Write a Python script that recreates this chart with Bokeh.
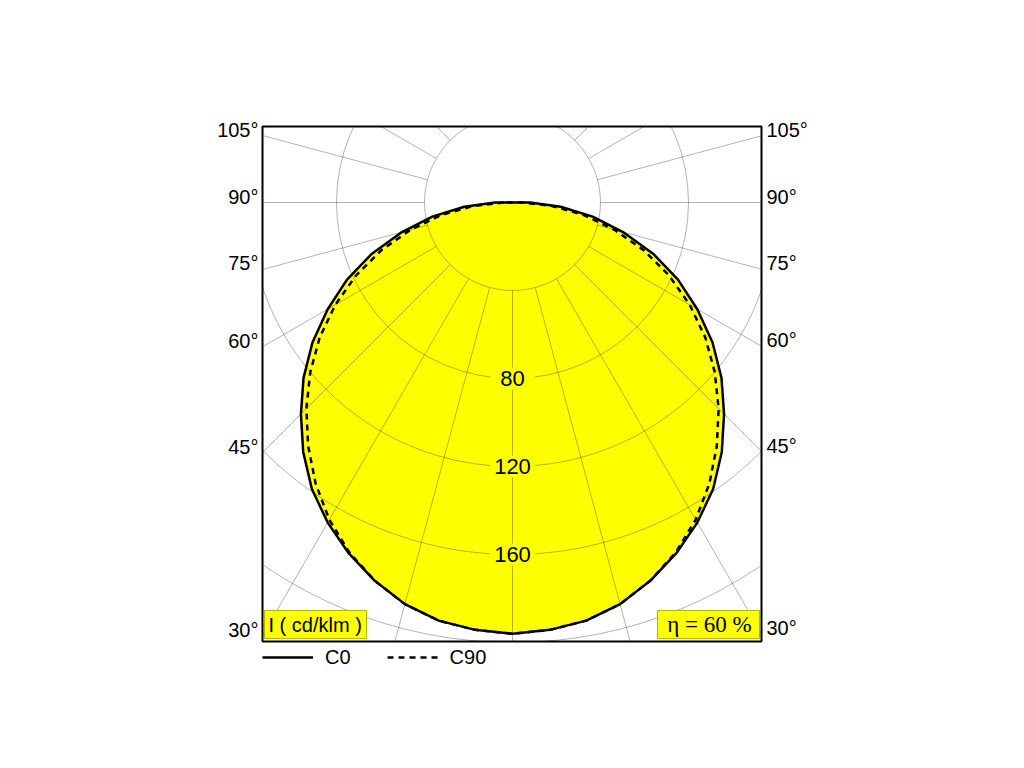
import numpy as np
from bokeh.plotting import figure
from bokeh.models import Legend, LegendItem, LinearAxis, FixedTicker, CustomJSTickFormatter
from bokeh.core.properties import value
from bokeh.embed import file_html
from bokeh.resources import INLINE

# ---- data (cd/klm) ----
angles = [0, 5, 10, 15, 20, 25, 30, 35, 40, 45, 50, 55, 60, 65, 70, 75, 80, 85, 90]
c0 = [196, 195, 193, 189, 183, 176, 168, 159, 148, 136, 124, 111, 97, 83, 68, 52, 37, 22, 8]
c90 = [196, 195, 193, 189, 183, 175.5, 166.5, 156, 144.5, 132.5, 120, 107, 93, 78.5, 63.5, 48, 33, 18, 4]
ring_values = [40, 80, 120, 160, 200]
ring_label_values = [80, 120, 160]
ring_labels = ["80", "120", "160"]
spoke_angles = list(range(0, 181, 15))
side_angles = [30, 45, 60, 75, 90, 105]
side_labels = ["30°", "45°", "60°", "75°", "90°", "105°"]
efficiency_text = "η = 60 %"
unit_text = "I ( cd/klm )"
series_names = ["C0", "C90"]

# ---- layout (page pixels) ----
SCALE = 2.2          # px per cd/klm
CX, CY = 512, 202    # pole position on the page
FL, FT, FR, FB = 262, 126, 761, 641
SANS = value("Liberation Sans")
SERIF = value("Liberation Serif")
YELLOW = "#FFFF00"


def xd(px):
    return (px - CX) / SCALE


def yd(py):
    return (CY - py) / SCALE


x0, x1 = xd(FL), xd(FR)
y0, y1 = yd(FB), yd(FT)

p = figure(frame_width=FR - FL, frame_height=FB - FT,
           x_range=(x0, x1), y_range=(y0, y1),
           output_backend="svg", toolbar_location=None,
           x_axis_location=None, y_axis_location=None,
           min_border_left=FL, min_border_top=FT,
           min_border_right=200, min_border_bottom=40)
p.outline_line_color = "black"
p.outline_line_width = 2
p.background_fill_color = "white"
p.border_fill_color = "white"
for g in p.grid:
    g.visible = False


def curve(vals):
    a = np.radians(np.array(angles, float))
    v = np.array(vals, float)
    xl = -(v * np.sin(a))[::-1]
    yl = -(v * np.cos(a))[::-1]
    xr = (v * np.sin(a))[1:]
    yr = -(v * np.cos(a))[1:]
    xs = np.concatenate([xl, xr, [xl[0]]])
    ys = np.concatenate([yl, yr, [yl[0]]])
    return xs, ys


xs0, ys0 = curve(c0)
xs90, ys90 = curve(c90)

# fill
p.patch(xs0, ys0, fill_color=YELLOW, line_color=None)

# polar grid
p.circle(x=[0] * len(ring_values), y=[0] * len(ring_values), radius=ring_values,
         fill_color=None, line_color="black", line_alpha=0.3, line_width=1)
sx, sy = [], []
for a in spoke_angles:
    t = np.radians(a)
    for s in (-1, 1):
        if s == -1 and a in (0, 180):
            continue
        sx.append([s * ring_values[0] * np.sin(t), s * 400 * np.sin(t)])
        sy.append([-ring_values[0] * np.cos(t), -400 * np.cos(t)])
p.multi_line(sx, sy, line_color="black", line_alpha=0.3, line_width=1)

# ring labels
ly = [-v for v in ring_label_values]
p.rect(x=[0] * len(ly), y=ly, width=45, height=22, width_units="screen",
       height_units="screen", fill_color=YELLOW, line_color=None)
p.text(x=[0] * len(ly), y=ly, text=ring_labels, text_align="center",
       text_baseline="middle", text_font=SANS, text_font_size=value("22px"),
       text_color="black")

# curves
r0 = p.line(xs0, ys0, line_color="black", line_width=2.5, line_join="round")
r90 = p.line(xs90, ys90, line_color="black", line_width=2.5, line_dash="6 5")

# corner boxes
p.quad(left=[xd(264)], right=[xd(366)], top=[yd(610)], bottom=[yd(638)],
       fill_color=YELLOW, line_color="#b4b400", line_width=1)
p.text(x=[xd(268)], y=[yd(624)], text=[unit_text], text_align="left",
       text_baseline="middle", text_font=SANS, text_font_size=value("20px"),
       text_color="black")
p.quad(left=[xd(657)], right=[xd(759)], top=[yd(610)], bottom=[yd(638)],
       fill_color=YELLOW, line_color="#b4b400", line_width=1)
p.text(x=[xd(709)], y=[yd(624)], text=[efficiency_text], text_align="center",
       text_baseline="middle", text_font=SERIF, text_font_size=value("23px"),
       text_color="black")

# angle labels on both sides (where each spoke meets the frame edge)
LABEL_LIFT = 6 / SCALE
pos_left, pos_right = [], []
for a in side_angles:
    t = np.radians(a)
    pos_left.append(float(x0 * np.cos(t) / np.sin(t) + LABEL_LIFT))
    pos_right.append(float(-x1 * np.cos(t) / np.sin(t) + LABEL_LIFT))

JS = """
let best = 0, bd = 1e99;
for (let j = 0; j < pos.length; j++) {
  const d = Math.abs(tick - pos[j]);
  if (d < bd) { bd = d; best = j; }
}
return labels[best];
"""

for side, pos, standoff in (("left", pos_left, 4), ("right", pos_right, 5)):
    ax = LinearAxis(ticker=FixedTicker(ticks=pos, minor_ticks=[]),
                    formatter=CustomJSTickFormatter(args=dict(pos=pos, labels=side_labels), code=JS),
                    axis_line_color=None, major_tick_line_color=None,
                    minor_tick_line_color=None, major_tick_in=0, major_tick_out=0,
                    major_label_standoff=standoff,
                    major_label_text_font="Liberation Sans",
                    major_label_text_font_size="20px",
                    major_label_text_color="black")
    p.add_layout(ax, side)

legend = Legend(items=[LegendItem(label=series_names[0], renderers=[r0]),
                       LegendItem(label=series_names[1], renderers=[r90])],
                orientation="horizontal", location="top_left",
                glyph_width=51, glyph_height=32, label_standoff=12, spacing=36,
                padding=0, margin=0, border_line_color=None,
                background_fill_alpha=0, label_text_font="Liberation Sans",
                label_text_font_size="20px", label_text_color="black")
p.add_layout(legend, "below")

open("out.html", "w").write(file_html(p, INLINE))
